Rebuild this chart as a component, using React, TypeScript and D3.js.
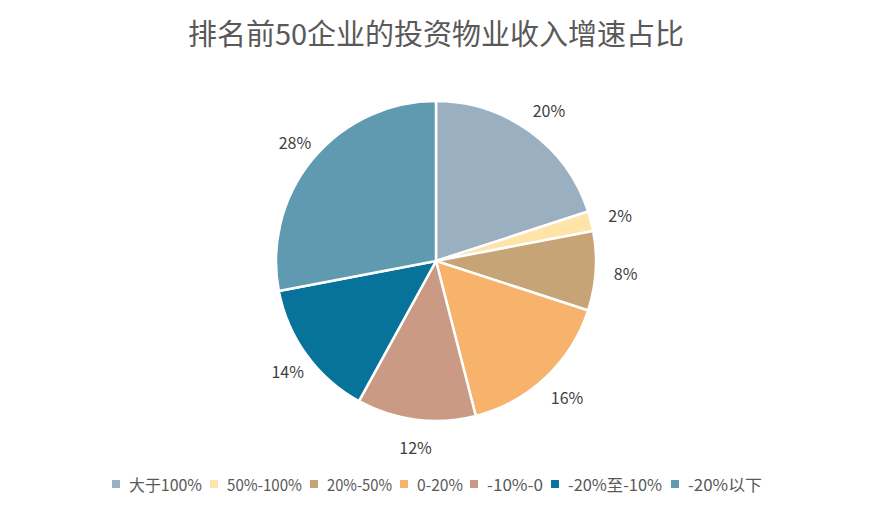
import React from "react";
import * as d3 from "d3";

const categories = ["大于100%", "50%-100%", "20%-50%", "0-20%", "-10%-0", "-20%至-10%", "-20%以下"];
const values = [20, 2, 8, 16, 12, 14, 28];
const labels = ["20%", "2%", "8%", "16%", "12%", "14%", "28%"];
const colors = ["#9AB0C1", "#FEE4A9", "#C6A476", "#F7B26B", "#CB9A85", "#07739A", "#5F9AB1"];
const legendTextX = [129, 227, 327, 417, 487, 568, 688];
const legendTextW = [73, 75, 65, 46, 56, 94, 74];

const W = 872, H = 515;
const cx = 436, cy = 261, R = 160, LR = 187;
const FONT = "'DengXian','Microsoft YaHei','Noto Sans CJK SC','Noto Sans',sans-serif";

export default function App() {
  const pie = d3.pie<number>().sort(null).value((d) => d)(values);
  const arc = d3.arc<d3.PieArcDatum<number>>().innerRadius(0).outerRadius(R);
  const labelArc = d3.arc<d3.PieArcDatum<number>>().innerRadius(LR).outerRadius(LR);
  return (
    <svg width={W} height={H} style={{ position: "absolute", left: 0, top: 0, background: "#fff" }} fontFamily={FONT}>
      <text x={cx} y={45} textAnchor="middle" fontSize={29} fill="#595959">排名前50企业的投资物业收入增速占比</text>
      <g transform={`translate(${cx},${cy})`}>
        {pie.map((p, i) => (
          <path key={i} d={arc(p) || ""} fill={colors[i]} stroke="#fff" strokeWidth={2.5} strokeLinejoin="round" />
        ))}
        {pie.map((p, i) => {
          const [x, y] = labelArc.centroid(p);
          return (
            <text key={i} x={x + 3} y={y} textAnchor="middle" dominantBaseline="central" fontSize={16} fill="#404040">{labels[i]}</text>
          );
        })}
      </g>
      {categories.map((c, i) => (
        <g key={i}>
          <rect x={legendTextX[i] - 17} y={480} width={8} height={8} fill={colors[i]} />
          <text x={legendTextX[i]} y={484} dominantBaseline="central" fontSize={16} fill="#595959"
            textLength={legendTextW[i]} lengthAdjust="spacingAndGlyphs">{c}</text>
        </g>
      ))}
    </svg>
  );
}
